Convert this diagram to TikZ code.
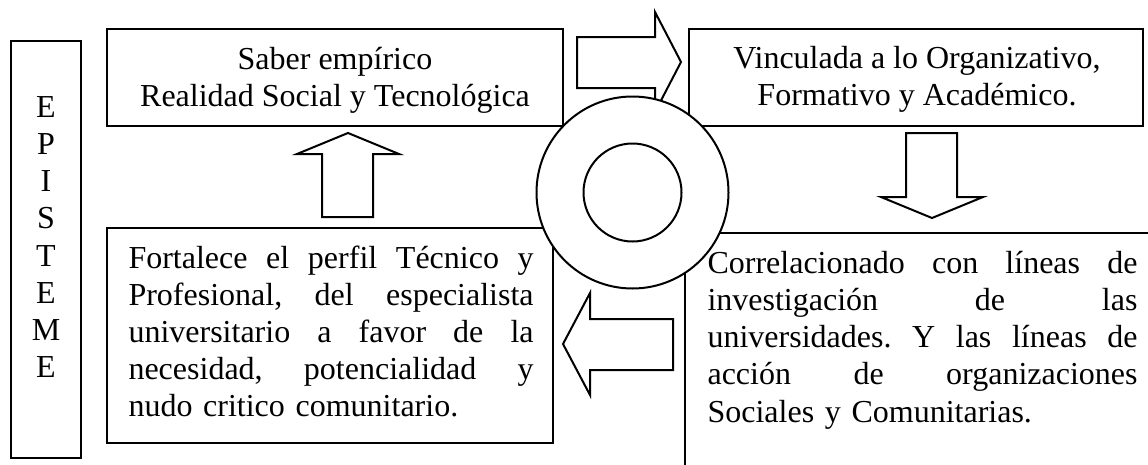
\documentclass[tikz,border=0pt]{standalone}
\usepackage{fontspec}
\setmainfont{Liberation Serif}
\usetikzlibrary{fit}
\frenchspacing
\newcommand{\justline}[1]{\hbox to\hsize{\spaceskip=.25em plus 1fil\relax #1}}
\pgfdeclarelayer{bg}
\pgfdeclarelayer{ring}
\pgfsetlayers{bg,ring,main}
\tikzset{
  box/.style={draw,line width=0.75pt,inner sep=0pt},
  txt/.style={inner sep=0pt,font=\fontsize{12}{13.9}\selectfont},
  blockarrow/.style={draw,line width=0.75pt,line join=miter,fill=white},
}
\begin{document}
\begin{tikzpicture}[x=0.375pt,y=-0.375pt]
  \useasboundingbox (0,0) rectangle (1148,464);

  %frames and block arrows
  \begin{pgfonlayer}{bg}
    \begin{scope}
      \clip (0,0) rectangle (1148,464);
      \node[box,fit={(11,41) (81,458)}] (episteme) {};
      \node[box,fit={(107,29) (563,126)}] (saber) {};
      \node[box,fit={(689,29) (1143,126)}] (vincula) {};
      \node[box,fit={(107,228) (553,443)}] (fortalece) {};
      \node[box,fit={(685,233) (1200,500)}] (correla) {};
    \end{scope}
    \draw[blockarrow] (577,37) -- (655,37) -- (655,12) -- (681,62) -- (655,112) -- (655,88) -- (577,88) -- cycle;
    \draw[blockarrow] (906,133) -- (957,133) -- (957,197) -- (983,197) -- (932,218) -- (881,197) -- (906,197) -- cycle;
    \draw[blockarrow] (673,319) -- (590,319) -- (590,293) -- (563,344) -- (590,395) -- (590,370) -- (673,370) -- cycle;
    \draw[blockarrow] (322,217) -- (322,154) -- (297,154) -- (348,133) -- (399,154) -- (373,154) -- (373,217) -- cycle;
  \end{pgfonlayer}

  %rings in the middle
  \begin{pgfonlayer}{ring}
    \node[circle,draw,line width=0.75pt,fill=white,inner sep=0pt,minimum size=72pt] (outer) at (632.5,192.5) {};
    \node[circle,draw,line width=0.75pt,inner sep=0pt,minimum size=36.75pt] (inner) at (outer.center) {};
  \end{pgfonlayer}

  %texts
  \node[txt,align=center] at (46,237) {E\\P\\I\\S\\T\\E\\M\\E};
  \node[txt,align=center] at (335,80.5) {Saber empírico\\Realidad Social y Tecnológica};
  \node[txt,align=center] at (917,79) {Vinculada a lo Organizativo,\\Formativo y Académico.};
  \node[txt,text width=151.9pt,anchor=north west] at (128,245) {%
    \justline{Fortalece el perfil Técnico y}
    \justline{Profesional, del especialista}
    \justline{universitario a favor de la}
    \justline{necesidad, potencialidad y}
    \hbox{nudo critico comunitario.}};
  \node[txt,text width=161.25pt,anchor=north west] at (707,251) {%
    \justline{Correlacionado con líneas de}
    \justline{investigación de las}
    \justline{universidades. Y las líneas de}
    \justline{acción de organizaciones}
    \hbox{Sociales y Comunitarias.}};
\end{tikzpicture}
\end{document}
